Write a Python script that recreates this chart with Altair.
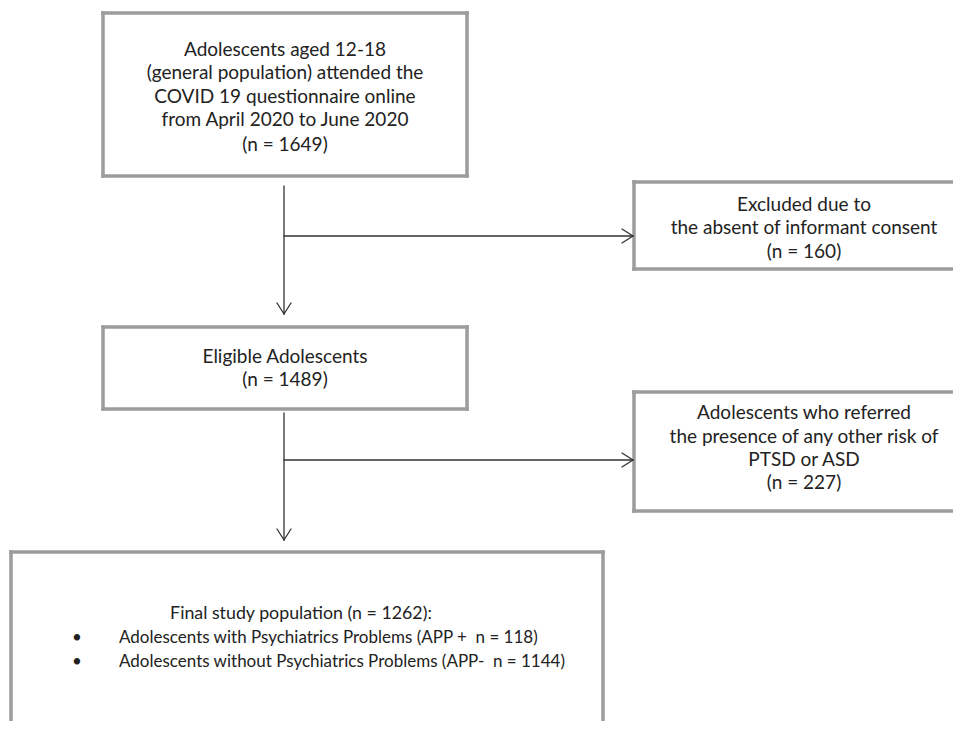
import altair as alt
import pandas as pd

# ---- boxes (left, top, right, bottom) in page pixel coordinates ----
box_names = ["start", "excluded", "eligible", "referred", "final"]
box_left = [103, 634, 103, 634, 11]
box_top = [13, 182, 327, 392, 552]
box_right = [467, 975, 467, 975, 603]
box_bottom = [176, 269, 409, 511, 745]

# ---- text ----
text_lines = [
    "Adolescents aged 12-18",
    "(general population) attended the",
    "COVID 19 questionnaire online",
    "from April 2020 to June 2020",
    "(n = 1649)",
    "Excluded due to",
    "the absent of informant consent",
    "(n = 160)",
    "Eligible Adolescents",
    "(n = 1489)",
    "Adolescents who referred",
    "the presence of any other risk of",
    "PTSD or ASD",
    "(n = 227)",
]
text_x = [285, 285, 285, 285, 285, 804, 804, 804, 285, 285, 804, 804, 804, 804]
text_y = [50, 73, 97, 120, 145, 205, 228, 252, 357, 380, 413, 437, 460, 483]

final_title = ["Final study population (n = 1262):"]
final_title_x = [301]
final_title_y = [614]

bullet_lines = [
    "Adolescents with Psychiatrics Problems (APP +\u00a0 n = 118)",
    "Adolescents without Psychiatrics Problems (APP-\u00a0 n = 1144)",
]
bullet_x = [77, 77]
bullet_text_x = [119, 119]
bullet_y = [638, 662]

# ---- connectors: (x, y, x2, y2) ----
conn = [
    (284, 186, 284, 314), (284, 236, 633, 236),
    (277, 303, 284, 314), (291, 303, 284, 314),
    (622, 229, 633, 236), (622, 243, 633, 236),
    (284, 413, 284, 540), (284, 460, 633, 460),
    (277, 529, 284, 540), (291, 529, 284, 540),
    (622, 453, 633, 460), (622, 467, 633, 460),
]

edges = []
for l, t, r, b in zip(box_left, box_top, box_right, box_bottom):
    edges += [(l, t, r, t), (l, b, r, b), (l, t, l, b), (r, t, r, b)]
edges_df = pd.DataFrame(edges, columns=["x", "y", "x2", "y2"])
conn_df = pd.DataFrame(conn, columns=["x", "y", "x2", "y2"])
text_df = pd.DataFrame({"x": text_x, "y": text_y, "t": text_lines})
ftitle_df = pd.DataFrame({"x": final_title_x, "y": final_title_y, "t": final_title})
btext_df = pd.DataFrame({"x": bullet_text_x, "y": bullet_y, "t": bullet_lines})
bul_df = pd.DataFrame({"x": bullet_x, "y": bullet_y, "t": ["•", "•"]})

W, H = 945, 713
xs = alt.Scale(domain=[8, 8 + W], nice=False, zero=False)
ys = alt.Scale(domain=[8, 8 + H], nice=False, zero=False, reverse=True)
X = lambda f: alt.X(f, type="quantitative", scale=xs, axis=None)
Y = lambda f: alt.Y(f, type="quantitative", scale=ys, axis=None)

box_layer = alt.Chart(edges_df).mark_rule(
    color="#9c9c9e", strokeWidth=3.5, strokeCap="square", clip=True
).encode(x=X("x"), y=Y("y"), x2="x2", y2="y2")

conn_layer = alt.Chart(conn_df).mark_rule(
    color="#333333", strokeWidth=1.3, strokeCap="round"
).encode(x=X("x"), y=Y("y"), x2="x2", y2="y2")

font = "Lato"
txt = alt.Chart(text_df).mark_text(
    font=font, fontSize=19, color="#222222", align="center", baseline="middle"
).encode(x=X("x"), y=Y("y"), text="t")

ftitle = alt.Chart(ftitle_df).mark_text(
    font=font, fontSize=17.8, color="#222222", align="center", baseline="middle"
).encode(x=X("x"), y=Y("y"), text="t")

btxt = alt.Chart(btext_df).mark_text(
    font=font, fontSize=17, color="#222222", align="left", baseline="middle"
).encode(x=X("x"), y=Y("y"), text="t")

bul = alt.Chart(bul_df).mark_text(
    font=font, fontSize=17, color="#222222", align="center", baseline="middle"
).encode(x=X("x"), y=Y("y"), text="t")

chart = alt.layer(box_layer, conn_layer, txt, ftitle, btxt, bul).properties(
    width=W, height=H, padding=0, autosize=alt.AutoSizeParams(type="none")
).configure_view(stroke=None)

chart.save("out.html", embed_options={"renderer": "svg", "actions": False})
